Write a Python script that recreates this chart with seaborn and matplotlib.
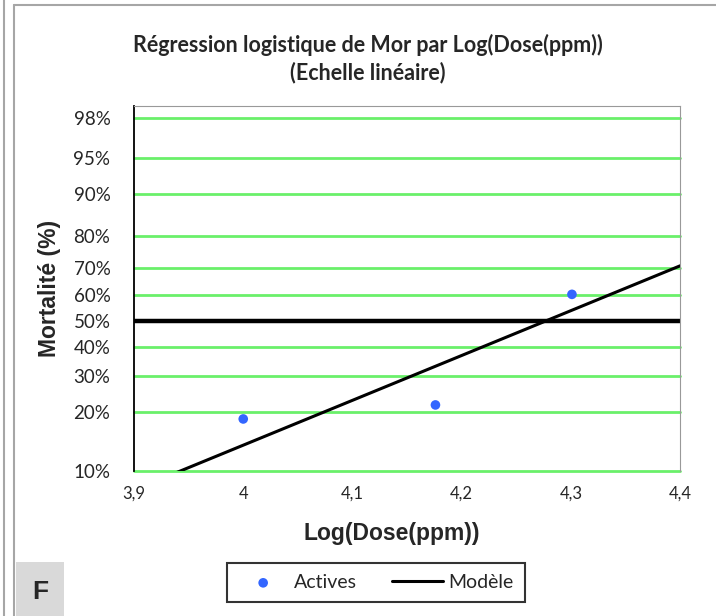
import numpy as np
import pandas as pd
import matplotlib
matplotlib.use("Agg")
import matplotlib.pyplot as plt
from matplotlib.lines import Line2D
from matplotlib.patches import Rectangle
import seaborn as sns

# données (axe Y linéaire, étiquettes en %)
dose_actives = [4.0, 4.176, 4.301]
score_actives = [-0.98, -0.84, 0.265]
dose_modele = [3.9, 4.4]
score_modele = [-1.69, 0.55]

pct_labels = ["10%", "20%", "30%", "40%", "50%", "60%", "70%", "80%", "90%", "95%", "98%"]
pct_pos = [-1.50, -0.91, -0.55, -0.26, 0.0, 0.26, 0.53, 0.85, 1.27, 1.63, 2.03]
x_ticks = [3.9, 4.0, 4.1, 4.2, 4.3, 4.4]
x_labels = ["3,9", "4", "4,1", "4,2", "4,3", "4,4"]

sns.set_style("white")
plt.rcParams['font.family'] = ['Lato', 'DejaVu Sans']

df_act = pd.DataFrame({"x": dose_actives, "y": score_actives})
df_mod = pd.DataFrame({"x": dose_modele, "y": score_modele})

fig = plt.figure(figsize=(7.16, 6.16), dpi=100)
ax = fig.add_axes([0.1872, 0.2354, 0.7626, 0.5930])

# grille verte + ligne 50% épaisse
for p, lab in zip(pct_pos, pct_labels):
    if lab == "50%":
        ax.axhline(p, color="black", lw=3.2, zorder=2)
    else:
        ax.axhline(p, color="#6af06a", lw=2.0, zorder=1, clip_on=False)

sns.lineplot(data=df_mod, x="x", y="y", ax=ax, color="black", lw=2.2,
             label="Modèle", zorder=3)
sns.scatterplot(data=df_act, x="x", y="y", ax=ax, color="#3366ff", s=48,
                edgecolor="none", label="Actives", zorder=4)

ax.set_xlim(3.9, 4.4)
ax.set_ylim(-1.50, 2.15)
ax.set_xticks(x_ticks)
ax.set_xticklabels(x_labels, fontsize=12)
ax.set_yticks(pct_pos)
ax.set_yticklabels(pct_labels, fontsize=13.5)
ax.tick_params(axis="x", direction="inout", length=9, width=1, color="#999999", pad=6)
ax.tick_params(axis="y", length=0, pad=17)

ax.spines["left"].set_color("black")
ax.spines["left"].set_linewidth(1.3)
ax.spines["top"].set_color("#999999")
ax.spines["right"].set_color("#999999")
ax.spines["bottom"].set_visible(False)

ax.set_xlabel("Log(Dose(ppm))", fontsize=16.5, fontweight="bold",
              family="Liberation Sans")
ax.set_ylabel("Mortalité (%)", fontsize=16.5, fontweight="bold",
              family="Liberation Sans", labelpad=9)
ax.xaxis.set_label_coords(0.472, -0.14)

fig.text(0.514, 0.927, "Régression logistique de Mor par Log(Dose(ppm))",
         ha="center", va="center", fontsize=15.5, fontweight="bold")
fig.text(0.514, 0.883, "(Echelle linéaire)", ha="center", va="center",
         fontsize=15.5, fontweight="bold")

# légende
handles, labels = ax.get_legend_handles_labels()
order = [labels.index("Actives"), labels.index("Modèle")]
ax.get_legend().remove()
leg = fig.legend([handles[i] for i in order], [labels[i] for i in order],
                 loc="center", bbox_to_anchor=(0.525, 0.0545),
                 ncol=2, fontsize=14, frameon=True, fancybox=False,
                 edgecolor="black", handlelength=2.6, columnspacing=1.8,
                 borderpad=0.55, handletextpad=0.3, borderaxespad=0.0)
leg.get_frame().set_linewidth(1.5)

# cadre gris et case "F"
fig.add_artist(Line2D([4 / 716, 4 / 716], [0, 1], color="#a6a6a6", lw=1.5))
fig.add_artist(Line2D([14 / 716, 14 / 716], [0, 1 - 5 / 616], color="#a6a6a6", lw=1.5))
fig.add_artist(Line2D([14 / 716, 1], [1 - 5 / 616, 1 - 5 / 616], color="#a6a6a6", lw=1.5))
fig.add_artist(Rectangle((16 / 716, 0), 48 / 716, 54 / 616, transform=fig.transFigure,
                         facecolor="#d9d9d9", edgecolor="none"))
fig.text(40 / 716, 24 / 616, "F", ha="center", va="center", fontsize=19,
         fontweight="bold", family="Liberation Sans")

fig.savefig("out.png", dpi=100)
